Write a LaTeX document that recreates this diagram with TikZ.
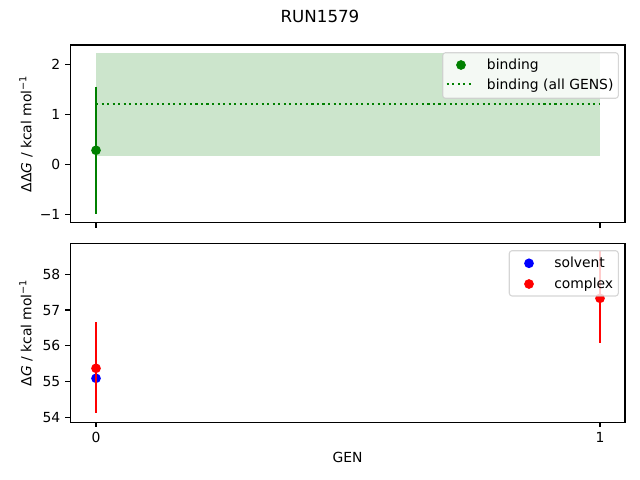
\documentclass[tikz,border=0pt]{standalone}
\usepackage{fontspec}
\setmainfont{DejaVu Sans}
\definecolor{mplgreen}{HTML}{008000}
\definecolor{mplblue}{HTML}{0000FF}
\definecolor{mplred}{HTML}{FF0000}
\definecolor{legendedge}{HTML}{CCCCCC}

\begin{document}
\begin{tikzpicture}[x=0.01in,y=-0.01in,
	font=\fontsize{10bp}{12bp}\selectfont,
	spine/.style={line width=0.8bp},
	ticklabel/.style={inner sep=0pt},
	errbar/.style={line width=1.5bp},
	dot/.style={circle,inner sep=0pt,minimum size=7bp},
	legendbox/.style={draw=legendedge,fill=white,fill opacity=0.8,draw opacity=0.8,rounded corners=2bp,line width=0.8bp},
	entry/.style={anchor=base west,inner sep=0pt}]
	\useasboundingbox (0,0) rectangle (640,480);

	\node (title) at (320,16) {\fontsize{12bp}{14bp}\selectfont RUN1579};

	\fill[mplgreen!20] (96,53.3) rectangle (600,155.7);
	\draw[mplgreen,line width=1.5bp,dash pattern=on 1.5bp off 2.475bp] (96,103.7) -- (600,103.7);
	\draw[mplgreen,errbar] (96,86.7) -- (96,214.3);
	\node[dot,fill=mplgreen] (bind0) at (96,150.3) {};
	\draw[spine] (70.3,45) rectangle (625,222.7);
	\foreach \yy/\lab in {64.3/2,114.3/1,164.3/0,214.3/−1} {
		\draw[spine] (70.3,\yy) -- ++(-4.86,0);
		\node[ticklabel,anchor=east] at (60.6,\yy) {\lab};
	}
	\foreach \xx in {96,600}
		\draw[spine] (\xx,222.7) -- ++(0,4.86);
	\node[rotate=90] (ddglabel) at (26,133.8) {ΔΔ\textit{G} / kcal mol\textsuperscript{−1}};

	\draw[legendbox] (442.7,52.7) rectangle (618.3,98.3);
	\node[dot,fill=mplgreen] (bindkey) at (461,65) {};
	\node[entry] (bindtext) at (486.7,69.5) {binding};
	\draw[mplgreen,line width=1.5bp,dash pattern=on 1.5bp off 2.475bp] (446.7,84.3) -- (474.3,84.3);
	\node[entry] (alltext) at (486.7,89.3) {binding (all GENS)};

	\node[dot,fill=mplblue] (solv0) at (96,378.3) {};
	\draw[mplred,errbar] (96,322.3) -- (96,413.3);
	\node[dot,fill=mplred] (cplx0) at (96,368.3) {};
	\draw[mplred,errbar] (600,251) -- (600,343.3);
	\node[dot,fill=mplred] (cplx1) at (600,298.3) {};
	\draw[spine] (70.3,243.3) rectangle (625,422.3);
	\foreach \yy/\lab in {274.3/58,310.05/57,345.8/56,381.55/55,417.3/54} {
		\draw[spine] (70.3,\yy) -- ++(-4.86,0);
		\node[ticklabel,anchor=east] at (60.6,\yy) {\lab};
	}
	\foreach \xx/\lab in {96/0,600/1} {
		\draw[spine] (\xx,422.3) -- ++(0,4.86);
		\node[ticklabel,anchor=north] at (\xx,432) {\lab};
	}
	\node[rotate=90] (dglabel) at (26,332.8) {Δ\textit{G} / kcal mol\textsuperscript{−1}};
	\node (genlabel) at (347.5,457) {GEN};

	\draw[legendbox] (509.3,250.7) rectangle (618.3,296);
	\node[dot,fill=mplblue] (solvkey) at (529,263.3) {};
	\node[entry] (solvtext) at (554,267.7) {solvent};
	\node[dot,fill=mplred] (cplxkey) at (529,284) {};
	\node[entry] (cplxtext) at (554,288.3) {complex};
\end{tikzpicture}
\end{document}
